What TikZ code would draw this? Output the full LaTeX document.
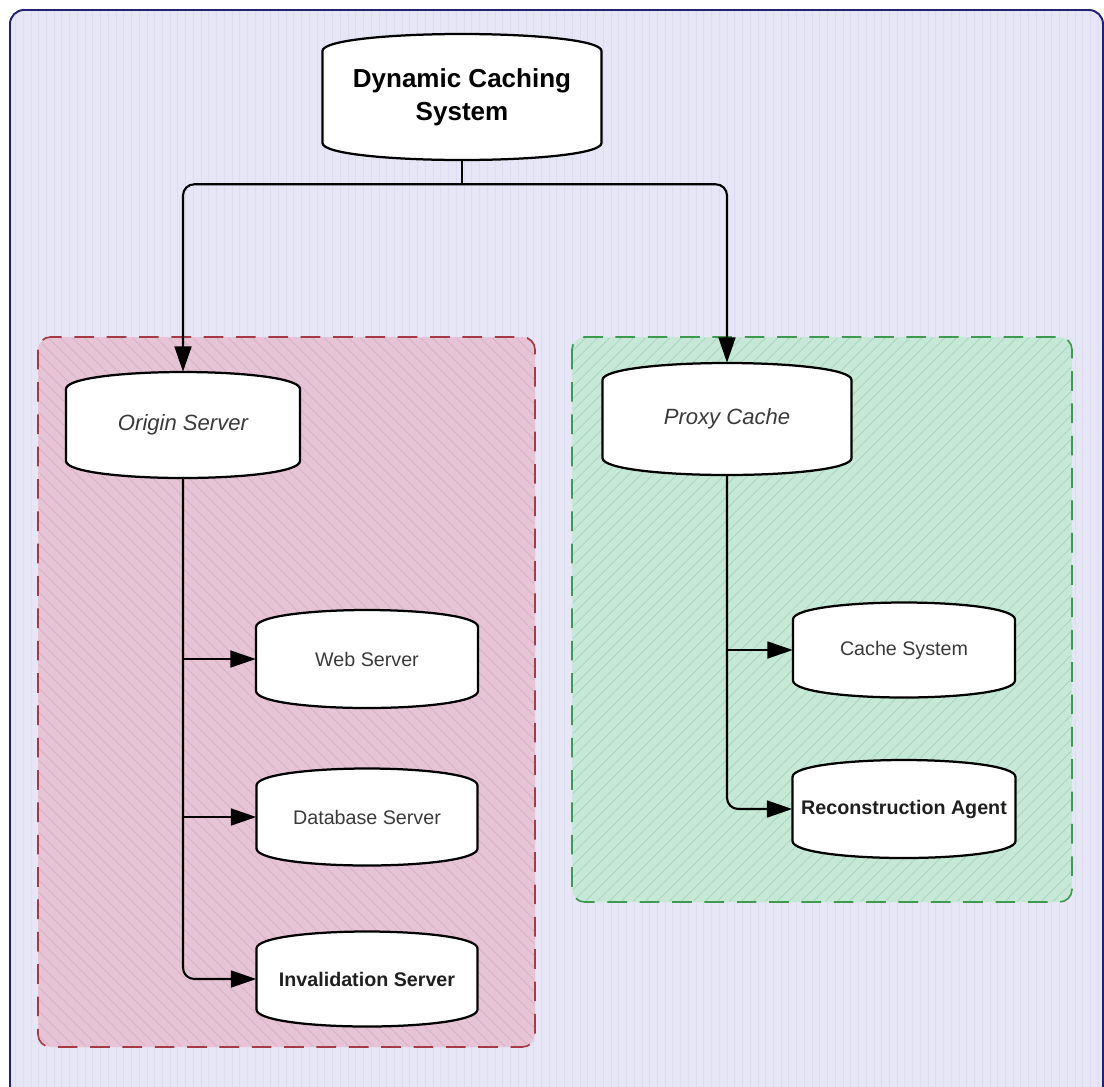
\documentclass[tikz,border=0pt]{standalone}
\usepackage{fontspec}
\setmainfont{Liberation Sans}
\usetikzlibrary{calc,arrows.meta,patterns.meta,positioning}
\definecolor{frameblue}{HTML}{22226E}
\definecolor{lavender}{HTML}{E6E6F6}
\definecolor{lavline}{HTML}{DDDDF1}
\definecolor{rose}{HTML}{E6C4D5}
\definecolor{roseline}{HTML}{D6B2C4}
\definecolor{roseedge}{HTML}{A63A44}
\definecolor{mint}{HTML}{C6E8D6}
\definecolor{mintline}{HTML}{AAD4BE}
\definecolor{mintedge}{HTML}{3E9A4E}
\definecolor{inkgray}{HTML}{3A3A3A}
\tikzset{
  drumline/.style={draw=black,line width=1.6pt,fill=white},
  drumtext/.style={font=\fontsize{14}{17}\selectfont,text=inkgray,align=center,inner sep=0pt},
  boldtext/.style={font=\fontsize{14}{17}\selectfont\bfseries,text=black!88},
  slanttext/.style={font=\fontsize{15.7}{19}\selectfont\itshape},
  link/.style={line width=1.5pt,-{Triangle[length=18pt,width=12pt]}},
  groupbox/.style={line width=1.2pt,dash pattern=on 14pt off 9pt,rounded corners=9pt}
}
% drum shape: name, cx, cy, w, h, text style, text
\newcommand{\drum}[7]{
\draw[drumline] (#2-#4/2,#3-#5/2+17) .. controls (#2-#4/2,#3-#5/2+6) and (#2-#4/4,#3-#5/2) .. (#2,#3-#5/2)
  .. controls (#2+#4/4,#3-#5/2) and (#2+#4/2,#3-#5/2+6) .. (#2+#4/2,#3-#5/2+17)
  -- (#2+#4/2,#3+#5/2-17) .. controls (#2+#4/2,#3+#5/2-6) and (#2+#4/4,#3+#5/2) .. (#2,#3+#5/2)
  .. controls (#2-#4/4,#3+#5/2) and (#2-#4/2,#3+#5/2-6) .. (#2-#4/2,#3+#5/2-17) -- cycle;
\node[drumtext,#6,minimum width={0.025cm*#4},minimum height={0.025cm*#5}] (#1) at (#2,#3) {#7};
}

\begin{document}
\begin{tikzpicture}[x=0.025cm,y=-0.025cm]
\useasboundingbox (0,0) rectangle (1104,1086);
% background frame
\draw[frameblue,line width=1.4pt,fill=lavender,rounded corners=10pt] (10,10) rectangle (1103,1100);
\fill[pattern={Lines[angle=90,distance=5.5pt,line width=0.6pt]},pattern color=lavline,rounded corners=10pt] (11,11) rectangle (1102,1099);
% groups
\draw[groupbox,draw=roseedge,fill=rose] (38,337) rectangle (535,1047);
\fill[pattern={Lines[angle=-45,distance=6.5pt,line width=0.6pt]},pattern color=roseline,rounded corners=9pt] (39,338) rectangle (534,1046);
\draw[groupbox,draw=mintedge,fill=mint] (572,337) rectangle (1072,902);
\fill[pattern={Lines[angle=45,distance=6.5pt,line width=0.6pt]},pattern color=mintline,rounded corners=9pt] (573,338) rectangle (1071,901);

\drum{dcs}{462}{97}{279}{126}{font=\fontsize{18.5}{23.5}\selectfont\bfseries,text=black}{Dynamic Caching\\System}
\drum{origin}{183}{425}{234}{106}{slanttext}{Origin Server}
\drum{proxy}{727}{419}{249}{112}{slanttext}{Proxy Cache}
\drum{web}{367}{659}{222}{98}{}{Web Server}
\drum{dbase}{367}{817}{221}{97}{}{Database Server}
\drum{inval}{367}{979}{221}{95}{boldtext}{Invalidation Server}
\drum{cache}{904}{650}{222}{95}{}{Cache System}
\drum{recon}{904}{809}{223}{98}{boldtext}{Reconstruction Agent}

\coordinate (split) at ($(dcs.south)+(0,24)$);
\draw[line width=1.5pt] (dcs.south) -- (split);
\draw[link,rounded corners=8pt] (split) -| (origin.north);
\draw[link,rounded corners=8pt] (split) -| (proxy.north);

\draw[link,rounded corners=8pt] (origin.south) |- (inval.west);
\draw[link] (origin.south |- web.west) -- (web.west);
\draw[link] (origin.south |- dbase.west) -- (dbase.west);

\draw[link,rounded corners=8pt] (proxy.south) |- (recon.west);
\draw[link] (proxy.south |- cache.west) -- (cache.west);
\end{tikzpicture}
\end{document}
